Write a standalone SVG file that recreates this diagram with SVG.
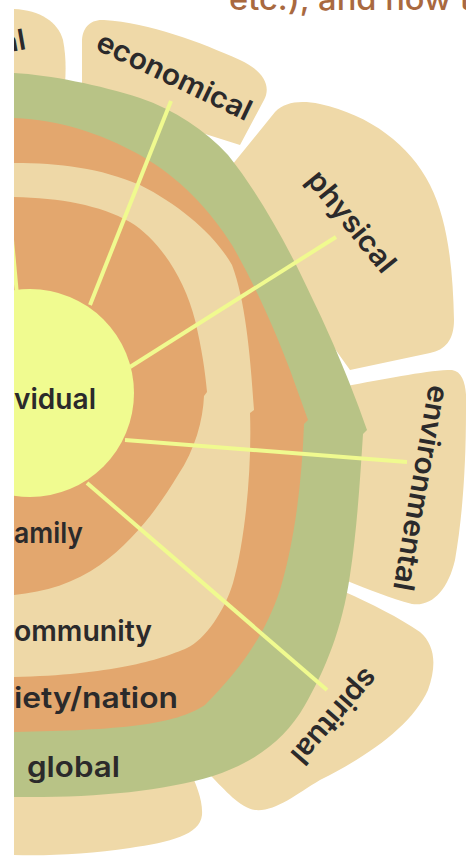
<svg xmlns="http://www.w3.org/2000/svg" width="466" height="857" viewBox="0 0 466 857">
<style>
.petal{fill:#EFD9A8}
.green{fill:#B8C386}
.orange{fill:#E3A76E}
.tan{fill:#EED8A7}
.core{fill:#F0FB90}
.conn{stroke:#F0FA8F;stroke-width:4;fill:none}
.lbl{font-family:Inter,"Noto Sans","DejaVu Sans",sans-serif;font-weight:600;font-size:29px;fill:#2B2A2B}
.head{font-family:Inter,"Noto Sans","DejaVu Sans",sans-serif;font-weight:500;font-size:31px;fill:#A9693F}
</style>
<defs>
<clipPath id="clip"><rect x="14" y="0" width="452" height="857"/></clipPath>
</defs>
<rect width="466" height="857" fill="#FFFFFF"/>
<text class="head" x="229" y="10" textLength="242" lengthAdjust="spacingAndGlyphs">etc.), and how t</text>
<g clip-path="url(#clip)">
<g id="petals">
<g id="petal-al"><path class="petal" d="M -20,8 L 14,9 C 40,10 58,22 63,40 C 66,55 66,70 65,84 L -20,84 Z"/></g>
<g id="petal-economical"><path class="petal" d="M 82,95 L 82,42 C 82,28 90,19 104,20 C 150,23 200,42 240,60 C 262,70 272,85 264,100 L 240,145 Z"/></g>
<g id="petal-physical"><path class="petal" d="M 232,165 L 275,112 C 285,102 300,100 320,104 C 370,115 410,145 430,185 C 448,220 453,270 454,320 C 454,340 445,350 430,353 L 350,370 L 300,300 Z"/></g>
<g id="petal-environmental"><path class="petal" d="M 340,388 L 352,385 C 390,378 430,370 452,370 C 465,372 467,390 466,410 C 466,470 462,520 455,560 C 448,590 432,607 412,604 C 390,598 370,590 345,580 Z"/></g>
<g id="petal-spiritual"><path class="petal" d="M 345,592 C 370,603 400,618 420,632 C 435,645 437,665 428,690 C 412,725 370,755 320,780 C 295,795 275,812 255,810 C 240,808 225,790 210,775 L 300,690 Z"/></g>
<g id="petal-bottom"><path class="petal" d="M -20,790 L 190,770 C 196,785 203,800 202,815 C 200,835 170,842 130,848 C 90,854 50,856 14,855 L -20,855 Z"/></g>
</g>
<g id="band-global"><path class="green" d="M -20,72 L 14,73 C 50,75 100,85 140,98 C 175,110 205,130 228,155 C 260,195 290,250 313,300 C 335,345 355,395 367,430 L 363,434 C 360,480 357,530 350,575 C 342,630 325,670 305,705 C 285,740 255,762 213,776 C 160,792 90,798 14,797 L -20,797 Z"/></g>
<g id="band-society"><path class="orange" d="M -20,117 L 14,118 C 60,120 100,133 140,155 C 180,178 210,210 232,245 C 255,285 275,330 290,370 L 308,420 L 304,424 C 302,480 295,540 280,590 C 265,635 240,670 205,705 C 175,725 120,730 14,732 L -20,732 Z"/></g>
<g id="band-community"><path class="tan" d="M -20,162 L 14,163 C 60,163 100,168 140,185 C 180,205 215,235 232,265 C 245,300 250,350 254,410 L 250,413 C 252,470 245,540 233,583 C 225,610 205,640 187,648 C 160,660 110,675 14,677 L -20,677 Z"/></g>
<g id="band-family"><path class="orange" d="M -20,197 L 14,197 C 60,198 100,205 130,222 C 160,240 185,280 195,320 C 202,350 205,370 207,392 L 204,396 C 203,420 195,450 178,475 C 160,505 135,540 100,565 C 75,583 45,592 14,595 L -20,595 Z"/></g>
<g id="connectors">
<line class="conn" x1="17" y1="295" x2="3" y2="140"/>
<line class="conn" x1="90" y1="305" x2="171" y2="101"/>
<line class="conn" x1="130" y1="367" x2="336" y2="237"/>
<line class="conn" x1="125" y1="440" x2="407" y2="462"/>
<line class="conn" x1="87" y1="483" x2="327" y2="690"/>
</g>
<g id="individual"><circle class="core" cx="30" cy="393" r="104"/>
<text class="lbl" x="14" y="409" textLength="82" lengthAdjust="spacingAndGlyphs">vidual</text></g>
<g id="band-labels">
<text class="lbl" x="14" y="543" textLength="69" lengthAdjust="spacingAndGlyphs">amily</text>
<text class="lbl" x="14" y="641" textLength="138" lengthAdjust="spacingAndGlyphs">ommunity</text>
<text class="lbl" x="14" y="708" textLength="164" lengthAdjust="spacingAndGlyphs">iety/nation</text>
<text class="lbl" x="27" y="777" textLength="93" lengthAdjust="spacingAndGlyphs">global</text>
</g>
<g id="petal-labels">
<text class="lbl" transform="translate(27,49) rotate(-10)" text-anchor="end">al</text>
<text class="lbl" transform="translate(174,77) rotate(25.5)" y="9" text-anchor="middle" textLength="168" lengthAdjust="spacingAndGlyphs">economical</text>
<text class="lbl" transform="translate(351,222) rotate(51)" y="9" text-anchor="middle" textLength="122" lengthAdjust="spacingAndGlyphs">physical</text>
<text class="lbl" transform="translate(420,488) rotate(100)" y="9" text-anchor="middle" textLength="208" lengthAdjust="spacingAndGlyphs">environmental</text>
<text class="lbl" transform="translate(334,716) rotate(131)" y="9" text-anchor="middle" textLength="116" lengthAdjust="spacingAndGlyphs">spiritual</text>
</g>
</g>
</svg>
